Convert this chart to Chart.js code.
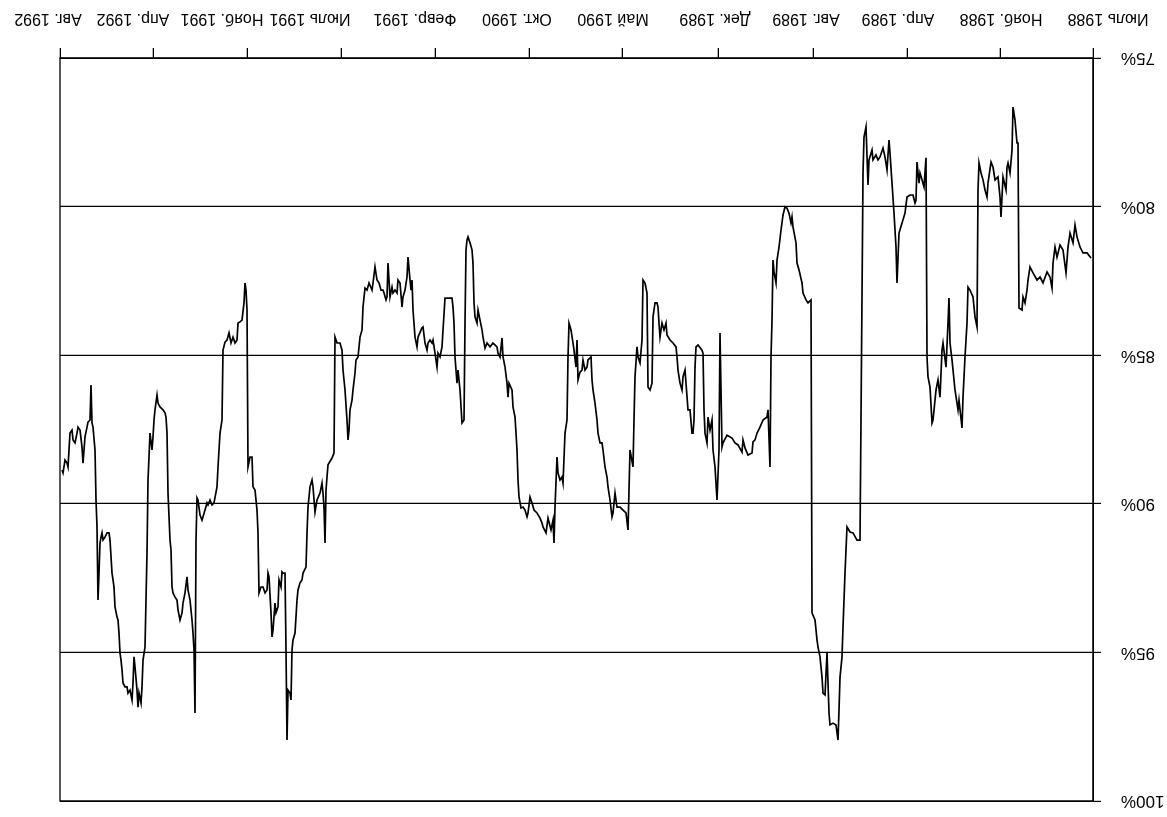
<!DOCTYPE html>
<html lang="ru">
<head>
  <meta charset="UTF-8">
  <meta name="viewport" content="width=device-width, initial-scale=1.0">
  <title>Доля, 1988–1992</title>
  <script src="https://cdn.jsdelivr.net/npm/chart.js"></script>
  <style>
    html, body {
      margin: 0;
      padding: 0;
      background: #fff;
    }
    /* the scanned original is upside down, so the whole chart is turned over */
    #wrap {
      width: 1167px;
      height: 817px;
      transform: rotate(180deg);
    }
  </style>
</head>
<body>

  <div id="wrap">
    <canvas id="chart"></canvas>
  </div>

  <script>
    // x = trading day counted from July 1988
    const tickDays = [0, 93, 186, 280, 375, 471, 564, 658, 752, 846, 940, 1033];
    // the printed labels sit a little off their tick marks in the original
    const labelDays = [-15, 92, 195, 287, 378, 480, 576, 678, 783, 871, 960, 1045];
    const tickLabels = ['Июль 1988', 'Нояб. 1988', 'Апр. 1989', 'Авг. 1989', 'Дек. 1989', 'Май 1990',
                        'Окт. 1990', 'Февр. 1991', 'Июль 1991', 'Нояб. 1991', 'Апр. 1992', 'Авг. 1992'];
    const yMin = 75, yMax = 100, yStep = 5;

    const day = [
      2,6,10,13,16,18,20,23,25,26,27,30,33,36,38,40,41,43,46,50,53,56,60,63,65,66,68,70,71,74,
      75,76,78,80,81,83,85,86,87,90,92,93,95,98,100,102,105,106,108,110,112,114,115,116,118,120,123,125,126,128,130,131,134,135,138,141,143,144,145,147,150,151,153,155,157,160,161,163,165,166,
      167,169,171,173,174,176,177,178,180,183,186,188,191,194,196,197,199,201,203,204,206,208,210,213,215,217,220,221,224,225,227,229,230,
      233,236,240,243,246,247,248,250,251,253,254,255,257,260,263,264,266,268,270,271,273,275,276,278,281,
      282,285,287,290,291,294,296,297,300,301,302,304,306,308,310,312,314,316,317,319,320,321,322,323,
      325,326,330,333,336,338,340,341,345,348,350,351,355,358,361,366,370,371,373,374,376,378,380,381,383,385,386,388,389,390,391,395,397,398,399,400,
      401,403,405,408,410,411,413,415,416,417,420,423,426,427,429,431,433,434,435,436,438,440,441,443,445,446,448,450,451,453,455,456,458,459,460,463,465,
      467,470,473,476,478,480,481,483,485,486,488,490,491,493,495,496,498,500,501,502,505,506,508,510,511,513,515,516,517,519,520,522,524,525,526,528,530,531,533,535,536,538,539,
      540,542,545,547,550,551,553,556,559,561,563,565,566,568,570,572,574,575,576,577,578,580,581,584,585,586,588,590,591,593,595,596,600,603,606,608,610,611,613,615,616,618,619,620,621,623,625,626,627,628,629,
      631,633,635,636,638,639,640,641,645,648,650,651,653,655,656,658,660,661,663,665,666,668,670,671,675,676,678,680,681,682,683,685,686,688,690,691,693,695,696,698,700,701,703,705,706,707,709,710,712,714,716,718,720,721,724,726,728,730,731,733,735,737,738,740,741,743,744,745,746,748,750,751,753,756,758,
      759,761,765,766,767,768,769,770,771,773,776,778,780,781,783,785,786,787,790,791,793,795,796,798,800,801,802,803,805,806,807,808,810,811,812,814,815,817,818,820,821,822,824,825,826,828,830,832,834,835,836,838,840,841,843,845,
      846,847,848,849,851,853,855,856,858,860,862,864,866,868,870,871,873,875,876,879,881,883,885,886,888,890,891,893,895,896,897,898,899,900,901,903,905,906,908,910,911,913,915,916,918,920,921,922,923,925,
      926,927,928,930,933,935,936,938,939,940,941,943,944,945,946,947,948,950,951,952,954,955,956,958,959,960,961,963,965,966,968,970,971,972,973,974,975,976,978,979,980,981,983,984,986,988,990,991,992,993,994,995,996,997,998,1000,1001,1002,1003,1005,1006,1008,1010,1011,1013,1015,1016,1018,1020,1021,1023,1025,1026,1028,1030,1031
    ];

    // share, %
    const share = [
      81.73,81.56,81.56,81.36,81.02,80.62,81.22,80.89,81.36,81.80,82.23,81.46,81.29,81.70,81.36,81.90,82.74,82.37,82.20,82.57,82.37,82.47,82.23,82.03,82.47,82.81,83.24,83.04,83.48,83.41,
      77.86,77.86,77.09,76.65,78.10,78.87,78.53,78.67,79.44,79.00,80.35,79.68,79.00,79.10,78.67,78.50,79.21,79.68,79.44,79.10,78.87,78.53,79.44,84.05,83.71,83.04,82.81,82.71,83.92,85.06,86.41,87.45,86.51,86.84,86.17,85.16,84.59,83.08,83.92,85.40,84.59,84.83,86.41,85.83,86.17,87.18,87.28,86.07,85.73,85.06,
      78.36,79.34,79.10,78.87,79.21,78.50,79.78,79.88,79.61,79.61,79.68,80.22,80.55,80.89,82.57,81.36,80.22,79.21,78.20,77.76,78.77,78.33,78.03,78.33,78.43,78.26,78.43,78.10,78.43,79.27,77.32,77.66,78.87,
      91.22,91.22,90.98,90.95,90.78,91.55,92.33,94.15,95.15,95.83,96.94,97.95,97.44,97.38,97.44,97.04,95.02,96.43,96.37,95.83,95.15,94.82,94.58,93.91,93.67,
      83.14,83.24,83.14,82.91,82.57,82.13,81.90,81.22,80.69,80.35,80.55,80.22,80.05,80.01,80.28,80.79,81.36,81.80,82.57,82.20,81.80,83.82,85.06,88.76,
      86.84,87.08,87.18,87.42,87.62,87.85,87.92,88.29,88.36,88.12,87.85,88.26,88.02,87.95,87.79,87.69,87.95,88.09,84.25,88.19,89.87,88.76,88.19,87.18,87.52,87.08,87.95,87.62,86.84,84.93,84.83,84.66,84.72,85.40,87.18,87.62,
      87.62,86.84,86.84,85.50,85.73,86.17,85.94,85.50,85.06,84.72,84.59,84.49,84.32,83.92,84.15,83.92,84.39,83.92,83.38,83.24,83.24,83.71,85.94,86.17,86.07,82.91,82.57,82.47,84.49,85.26,85.06,84.72,85.73,87.18,88.76,88.19,90.88,
      90.31,90.21,90.11,90.11,89.64,90.31,90.44,89.87,89.43,89.10,88.76,88.19,87.95,87.95,87.62,87.18,86.61,86.17,85.83,85.06,85.16,85.40,85.50,85.16,85.50,85.57,85.83,84.49,85.40,84.83,84.59,84.15,83.92,85.06,87.18,87.62,89.30,89.10,89.20,88.96,88.43,90.11,91.32,
      90.55,90.88,90.48,90.98,90.78,90.65,90.48,90.31,90.21,89.97,89.77,90.31,90.44,90.21,90.11,90.14,89.77,89.20,88.19,87.62,87.08,86.74,86.17,85.94,86.41,85.94,85.40,85.06,84.42,85.06,84.93,84.72,84.59,84.72,84.59,84.76,84.39,84.15,83.82,83.48,83.92,83.71,83.24,81.90,81.46,81.22,81.02,81.12,81.46,83.92,87.18,
      87.28,86.17,85.50,85.94,85.06,83.92,83.38,83.08,83.08,83.08,84.15,84.72,85.06,84.93,85.40,84.93,84.49,84.59,84.49,84.59,84.83,84.59,84.05,84.08,84.39,84.72,84.39,83.48,82.47,82.81,82.47,81.70,82.37,82.81,83.04,83.38,82.57,82.47,82.91,82.81,82.91,82.71,83.04,81.90,83.04,83.14,82.91,82.81,82.81,82.57,82.47,82.03,82.57,82.81,82.57,82.81,82.74,83.38,84.15,84.39,85.06,85.16,85.60,86.17,86.51,86.84,87.52,87.85,87.18,86.17,85.50,84.83,84.59,84.59,84.39,
      88.29,88.46,88.69,89.10,89.54,91.32,90.11,89.64,89.30,89.64,89.87,90.28,89.43,89.20,89.43,90.11,90.98,92.13,92.33,92.56,92.66,92.90,93.24,94.35,94.58,94.92,96.60,96.37,96.27,97.95,94.92,92.33,92.33,92.29,92.80,92.56,93.47,93.67,93.34,94.25,94.48,93.67,92.46,92.33,92.90,93.00,92.80,92.80,93.00,90.98,90.21,89.54,89.43,88.43,88.43,88.76,
      83.48,82.81,82.57,83.24,83.82,83.88,83.92,84.49,84.59,84.39,84.59,84.25,84.49,84.56,84.83,87.18,87.62,88.76,89.43,89.97,90.04,89.87,90.04,89.97,90.21,90.44,90.55,90.38,89.87,89.80,91.22,97.04,94.92,94.35,93.91,93.24,92.90,92.46,93.00,93.34,93.67,93.91,93.57,93.24,93.14,93.00,92.80,91.55,91.22,89.64,
      87.62,87.08,86.94,86.84,86.74,86.61,86.34,86.84,87.18,87.75,88.19,87.62,88.43,89.20,91.66,93.24,94.82,95.26,96.16,96.70,96.37,96.84,96.27,95.49,95.15,96.03,96.60,96.27,96.37,96.16,96.16,96.03,95.59,95.26,95.02,94.35,93.91,93.81,93.47,92.80,92.56,92.33,91.22,90.98,90.98,91.12,91.22,90.98,91.12,91.32,92.33,93.24,90.78,89.87,88.19,87.42,87.28,86.00,87.18,87.25,87.42,87.75,88.63,88.09,87.52,87.42,87.62,87.95,87.85,87.52,87.62,88.76,88.63,88.53,88.96,88.86
    ];

    const n = Math.min(day.length, share.length);
    const points = [];
    for (let i = 0; i < n; i++) points.push({ x: day[i], y: share[i] });

    // frame round the plot area
    const frame = {
      id: 'frame',
      afterDraw(chart) {
        const a = chart.chartArea, c = chart.ctx;
        c.save();
        c.strokeStyle = '#000';
        c.lineWidth = 1.3;
        c.strokeRect(a.left, a.top, a.right - a.left, a.bottom - a.top);
        c.restore();
      }
    };

    // fixed box sizes, and no extra room asked for by overhanging labels
    function fixHeight(h) {
      return scale => {
        scale.height = h;
        scale.paddingLeft = 0;
        scale.paddingRight = 0;
      };
    }
    function fixWidth(w) {
      return scale => {
        scale.width = w;
        scale.paddingTop = 0;
        scale.paddingBottom = 0;
      };
    }

    Chart.defaults.font.family = '"Liberation Sans", Arial, sans-serif';
    Chart.defaults.color = '#000';

    new Chart(document.getElementById('chart'), {
      type: 'line',
      data: {
        datasets: [{
          data: points,
          borderColor: '#000',
          borderWidth: 1.7,
          pointRadius: 0,
          tension: 0,
          fill: false
        }]
      },
      options: {
        responsive: true,
        maintainAspectRatio: false,
        devicePixelRatio: 1,
        animation: false,
        layout: { padding: { top: 16, right: 60, left: 0, bottom: 0 } },
        plugins: { legend: { display: false }, tooltip: { enabled: false } },
        scales: {
          // tick marks only
          x: {
            type: 'linear',
            min: tickDays[0],
            max: tickDays[tickDays.length - 1],
            afterBuildTicks: scale => { scale.ticks = tickDays.map(v => ({ value: v })); },
            afterFit: fixHeight(10),
            ticks: { display: false },
            grid: { drawOnChartArea: false, drawTicks: true, tickLength: 10, color: '#000', lineWidth: 1.3 },
            border: { display: true, color: '#000', width: 1.3 }
          },
          y: {
            min: yMin,
            max: yMax,
            afterFit: fixWidth(74),
            ticks: {
              stepSize: yStep,
              padding: 20,
              font: { size: 17 },
              callback: v => v + '%'
            },
            grid: { color: '#000', lineWidth: 1.2, tickLength: 8 },
            border: { display: true, color: '#000', width: 1.3 }
          },
          // month labels
          x2: {
            type: 'linear',
            position: 'bottom',
            min: tickDays[0],
            max: tickDays[tickDays.length - 1],
            afterBuildTicks: scale => { scale.ticks = labelDays.map(v => ({ value: v })); },
            afterFit: fixHeight(48),
            ticks: {
              autoSkip: false,
              maxRotation: 0,
              padding: 20,
              font: { size: 16 },
              callback: v => tickLabels[labelDays.indexOf(v)]
            },
            grid: { display: false, drawTicks: false },
            border: { display: false }
          }
        }
      },
      plugins: [frame]
    });
  </script>

</body>
</html>
